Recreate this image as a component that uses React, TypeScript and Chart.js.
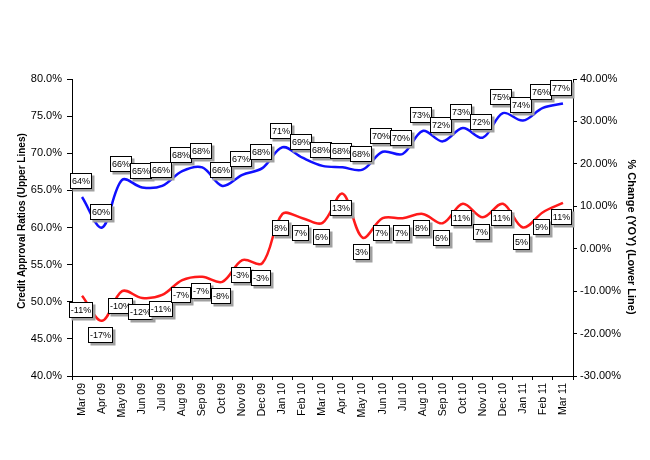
import React, { useEffect, useRef } from "react";
import { Chart, registerables } from "chart.js";

Chart.register(...registerables);

const months = [
  "Mar 09", "Apr 09", "May 09", "Jun 09", "Jul 09", "Aug 09", "Sep 09", "Oct 09", "Nov 09", "Dec 09",
  "Jan 10", "Feb 10", "Mar 10", "Apr 10", "May 10", "Jun 10", "Jul 10", "Aug 10", "Sep 10", "Oct 10",
  "Nov 10", "Dec 10", "Jan 11", "Feb 11", "Mar 11",
];

const approvalRatios = [
  64.1, 60.0, 66.4, 65.4, 65.6, 67.6, 68.1, 65.6, 67.1, 68.0,
  70.8, 69.4, 68.3, 68.1, 67.8, 70.2, 69.9, 73.0, 71.6, 73.4,
  72.1, 75.4, 74.4, 76.1, 76.7,
];

const yoyChange = [
  -11.1, -17.0, -10.0, -11.6, -10.9, -7.4, -6.6, -7.8, -2.7, -3.4,
  8.2, 7.2, 6.1, 13.0, 2.6, 7.2, 7.2, 8.2, 6.0, 10.6,
  7.4, 10.6, 5.0, 8.6, 10.8,
];

const leftTitle = "Credit Approval Ratios (Upper Lines)";
const rightTitle = "% Change (YOY) (Lower Line)";

const FONT = '"Liberation Sans", Arial, sans-serif';

const boxLabels = {
  id: "boxLabels",
  afterDatasetsDraw(chart: any) {
    const ctx = chart.ctx;
    ctx.save();
    ctx.font = `9px ${FONT}`;
    chart.data.datasets.forEach((ds: any, di: number) => {
      const meta = chart.getDatasetMeta(di);
      const dy = di === 0 ? -16 : 14.5;
      for (let i = 0; i < meta.data.length; i++) {
        const pt = meta.data[i];
        const text = Math.round(ds.data[i]) + "%";
        const w = Math.round(ctx.measureText(text).width + 4);
        const h = 16;
        const x = Math.round(pt.x - 1.5 - w / 2);
        const y = Math.round(pt.y + dy - h / 2);
        ctx.fillStyle = "#a0a0a0";
        ctx.fillRect(x + 2.5, y + 2.5, w, h);
        ctx.fillStyle = "#ffffff";
        ctx.fillRect(x, y, w, h);
        ctx.strokeStyle = "#000000";
        ctx.lineWidth = 1;
        ctx.strokeRect(x + 0.5, y + 0.5, w - 1, h - 1);
        ctx.fillStyle = "#000000";
        ctx.textAlign = "center";
        ctx.textBaseline = "middle";
        ctx.fillText(text, x + w / 2, y + h / 2 + 0.5);
      }
    });
    ctx.restore();
  },
};

const axisTitles = {
  id: "axisTitles",
  afterDraw(chart: any) {
    const ctx = chart.ctx;
    ctx.save();
    ctx.fillStyle = "#000";
    ctx.textAlign = "center";
    ctx.textBaseline = "middle";
    ctx.font = `bold 10px ${FONT}`;
    ctx.translate(22, 221);
    ctx.rotate(-Math.PI / 2);
    ctx.fillText(leftTitle, 0, 0);
    ctx.restore();
    ctx.save();
    ctx.fillStyle = "#000";
    ctx.textAlign = "center";
    ctx.textBaseline = "middle";
    ctx.font = `bold 11px ${FONT}`;
    ctx.translate(631, 237);
    ctx.rotate(Math.PI / 2);
    ctx.fillText(rightTitle, 0, 0);
    ctx.restore();
  },
};

export default function App() {
  const ref = useRef<HTMLCanvasElement | null>(null);

  useEffect(() => {
    if (!ref.current) return;
    const chart = new Chart(ref.current, {
      type: "line",
      data: {
        labels: months,
        datasets: [
          {
            label: "Approval",
            data: approvalRatios,
            yAxisID: "y",
            borderColor: "#1010ff",
            borderWidth: 2.5,
            pointRadius: 0,
            tension: 0.35,
            fill: false,
          },
          {
            label: "YOY",
            data: yoyChange,
            yAxisID: "y1",
            borderColor: "#ff1a1a",
            borderWidth: 2.5,
            pointRadius: 0,
            tension: 0.35,
            fill: false,
          },
        ],
      },
      options: {
        animation: false,
        responsive: false,
        layout: { padding: { top: 79, left: 0, right: 0, bottom: 0 } },
        plugins: { legend: { display: false }, tooltip: { enabled: false } },
        scales: {
          x: {
            type: "category",
            offset: true,
            grid: { offset: true, drawOnChartArea: false, drawTicks: true, tickLength: 4, color: "#000" },
            border: { display: true, color: "#000", width: 1 },
            ticks: {
              autoSkip: false,
              maxRotation: 90,
              minRotation: 90,
              padding: 3,
              color: "#000",
              font: { family: FONT, size: 10.5 },
            },
            afterFit: (s: any) => { s.height = 84; },
          } as any,
          y: {
            position: "left",
            min: 40,
            max: 80,
            grid: { drawOnChartArea: false, drawTicks: true, tickLength: 5, color: "#000" },
            border: { display: true, color: "#000", width: 1 },
            ticks: {
              stepSize: 5,
              padding: 5,
              color: "#000",
              font: { family: FONT, size: 11 },
              callback: (v: any) => Number(v).toFixed(1) + "%",
            },
            afterFit: (s: any) => { s.width = 72; },
          } as any,
          y1: {
            position: "right",
            min: -30,
            max: 40,
            grid: { drawOnChartArea: false, drawTicks: true, tickLength: 4, color: "#000" },
            border: { display: true, color: "#000", width: 1 },
            ticks: {
              stepSize: 10,
              padding: 3,
              color: "#000",
              font: { family: FONT, size: 11 },
              callback: (v: any) => Number(v).toFixed(2) + "%",
            },
            afterFit: (s: any) => { s.width = 77; },
          } as any,
        },
      },
      plugins: [boxLabels, axisTitles],
    });
    return () => chart.destroy();
  }, []);

  return (
    <div style={{ position: "fixed", left: 0, top: 0, width: 650, height: 460, background: "#fff" }}>
      <canvas ref={ref} width={650} height={460} style={{ display: "block" }} />
    </div>
  );
}
